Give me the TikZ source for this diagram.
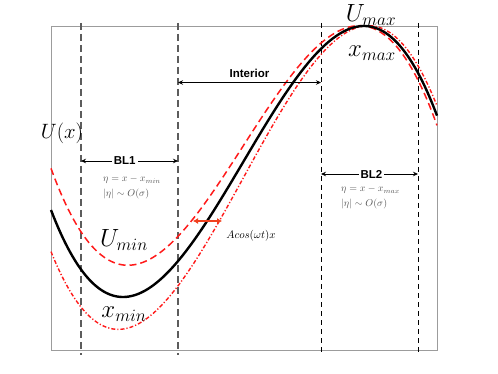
\documentclass[tikz,border=0pt]{standalone}
\usepackage{fontspec}
\setsansfont{Liberation Sans}
\usetikzlibrary{arrows.meta}
\definecolor{potred}{HTML}{FF1A1A}
\definecolor{shiftred}{HTML}{F0401E}
\definecolor{framegrey}{HTML}{9C9C9C}
\definecolor{sepgrey}{HTML}{5C5C5C}
\definecolor{notegrey}{HTML}{555555}

\begin{document}
\begin{tikzpicture}[x=1pt,y=-1pt,
  declare function={uu(\t)=(\t-243.5)/120.5;
    ub(\t)=161.5-67.75*(3*uu(\t)-uu(\t)*uu(\t)*uu(\t));
    tilt(\t)=0.133*(364-\t);},
  frame/.style={draw=framegrey,line width=0.8pt},
  sepA/.style={draw=sepgrey,line width=1.2pt,dash pattern=on 7pt off 4pt},
  sepB/.style={draw=black,line width=0.9pt,dash pattern=on 5pt off 4pt},
  pot/.style={black,line width=2.4pt},
  potup/.style={potred,line width=1.5pt,dash pattern=on 7pt off 4pt},
  potlo/.style={potred,line width=1.4pt,dash pattern=on 4pt off 2pt on 1.2pt off 2pt},
  dim/.style={{Stealth[length=5pt,width=4.5pt]}-{Stealth[length=5pt,width=4.5pt]},line width=0.8pt},
  push/.style={{Latex[length=5pt,width=6pt]}-{Latex[length=5pt,width=6pt]},shiftred,line width=1.5pt},
  tag/.style={font=\fontsize{11.5}{13}\sffamily\bfseries,inner sep=2pt},
  big/.style={font=\fontsize{24}{26}\selectfont,inner sep=0pt},
  eqn/.style={font=\fontsize{10}{12}\selectfont,text=notegrey,inner sep=0pt,anchor=base west}]

\useasboundingbox (0,0) rectangle (498,374);
\draw[frame] (51,26) rectangle (437,350);

\foreach \i/\xx in {1/81,2/178} \draw[sepA] (\xx,23) coordinate (d\i) -- (\xx,355);
\foreach \i/\xx in {3/321,4/418} \draw[sepB] (\xx,23) coordinate (d\i) -- (\xx,355);

\draw[potup] plot[domain=51:437,samples=160] (\x,{ub(\x)-tilt(\x)});
\draw[potlo] plot[domain=51:437,samples=160] (\x,{ub(\x)+tilt(\x)});
\draw[pot] plot[domain=51:437,samples=160] (\x,{ub(\x)});

\node[font=\fontsize{19.5}{21}\selectfont,inner sep=0pt] (ux) at (62,133) {$U(x)$};
\node[big] (umax) at (371,15) {$U_{max}$};
\node[big] (xmax) at (372,53) {$x_{max}$};
\node[big] (umin) at (124,240) {$U_{min}$};
\node[big] (xmin) at (124,314) {$x_{min}$};

\draw[dim] (d2 |- 0,82.5) -- node[tag,above=2pt] (inter) {Interior} (d3 |- 0,82.5);
\draw[dim] (d1 |- 0,161) -- node[tag,fill=white,pos=.45] (bl1) {BL1} (d2 |- 0,161);
\draw[dim] (d3 |- 0,174) -- node[tag,fill=white,pos=.52] (bl2) {BL2} (d4 |- 0,174);

\node[eqn] (bl1eta) at (103,182) {$\eta = x - x_{min}$};
\node[eqn] (bl1ord) at (103,196.5) {$|\eta| \sim O(\sigma)$};
\node[eqn] (bl2eta) at (341,192) {$\eta = x - x_{max}$};
\node[eqn] (bl2ord) at (341,206.5) {$|\eta| \sim O(\sigma)$};

\coordinate (sl) at (193,221);
\coordinate (sr) at (222,221);
\draw[push] (sl) -- (sr);
\node[font=\fontsize{11}{13}\selectfont,inner sep=0pt] (shift) at (251,236) {$Acos(\omega t)x$};
\end{tikzpicture}
\end{document}
